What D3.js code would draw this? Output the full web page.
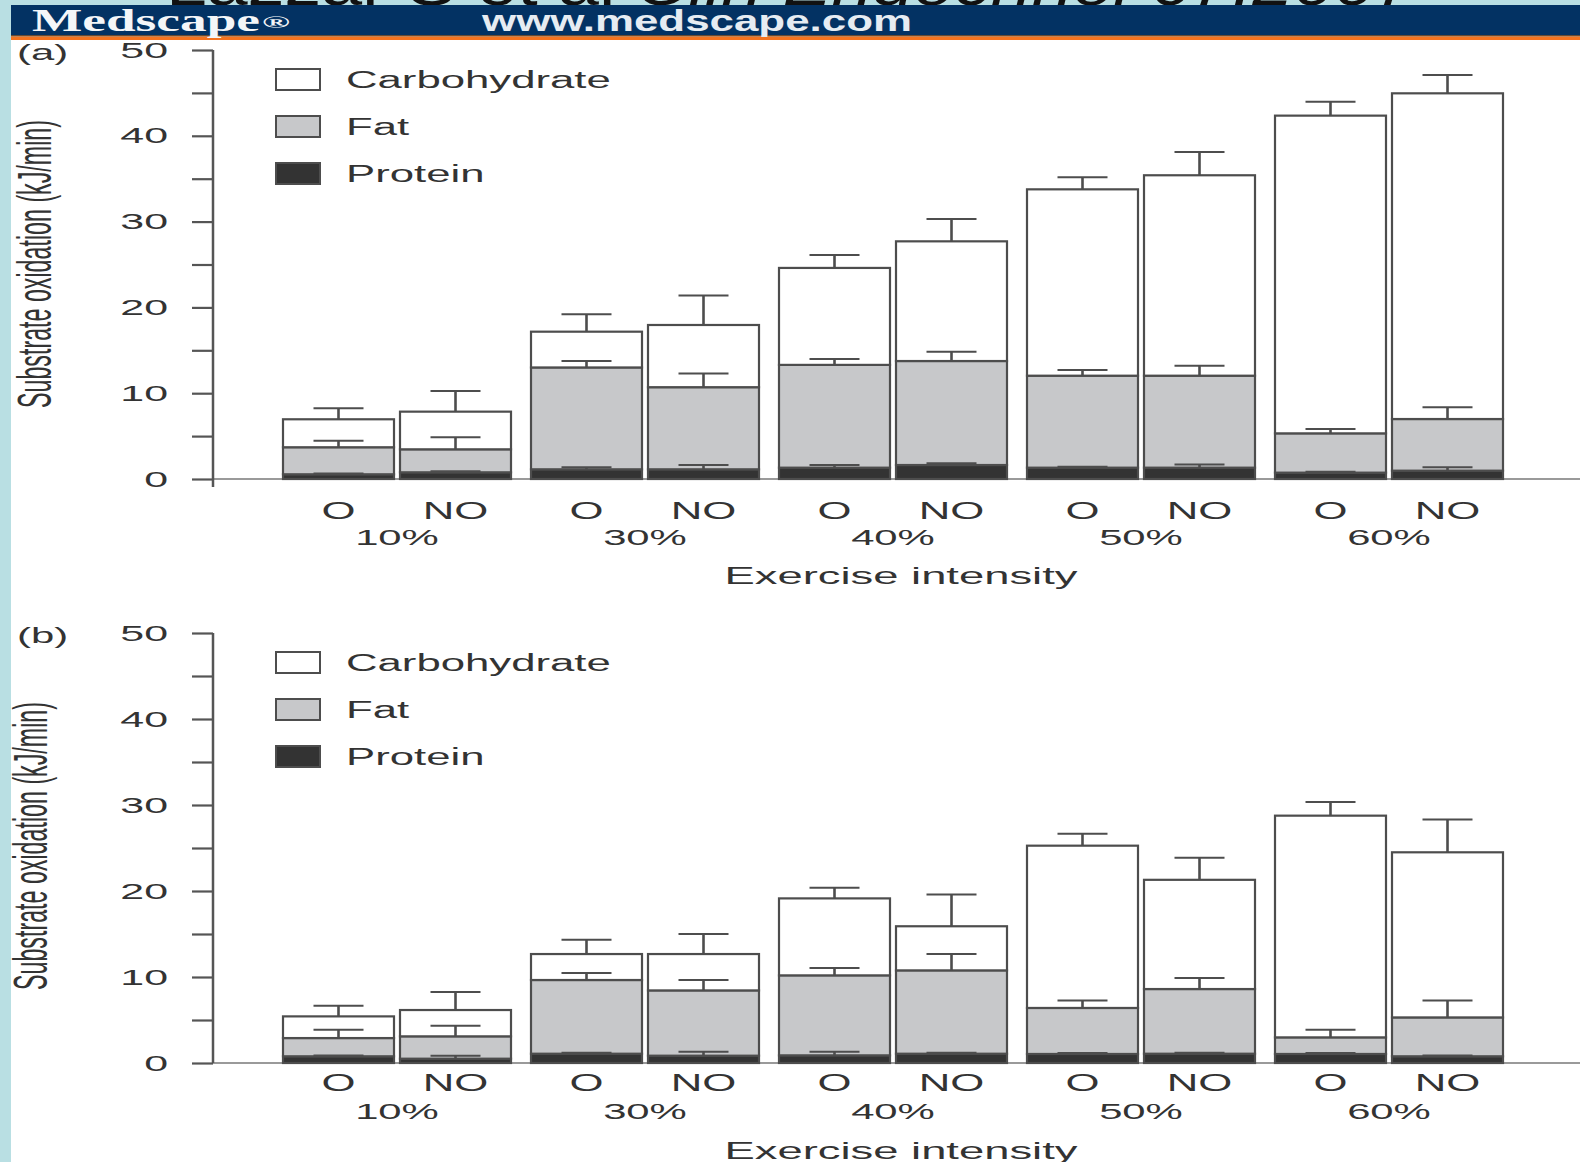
<!DOCTYPE html>
<html>
<head>
<meta charset="utf-8">
<script src="https://cdn.jsdelivr.net/npm/d3@7"></script>
<style>
  body { margin: 0; background: #fff; }
  svg { display: block; }
  text { font-family: "Liberation Sans", Arial, sans-serif; fill: #333; }
</style>
</head>
<body>
<div id="chart"></div>
<script>
// categories
var groups = ['10%', '30%', '40%', '50%', '60%'];
var conditions = ['O', 'NO'];
var seriesKeys = ['Protein', 'Fat', 'Carbohydrate'];
var legendKeys = ['Carbohydrate', 'Fat', 'Protein'];
var yTickValues = [0, 5, 10, 15, 20, 25, 30, 35, 40, 45, 50];

// panel (a) values, kJ/min, order: 10% O, 10% NO, 30% O, ...
var proteinA = [0.55, 0.78, 1.13, 1.13, 1.32, 1.63, 1.32, 1.32, 0.74, 0.97];
var fatA = [3.15, 2.68, 11.87, 9.57, 11.98, 12.12, 10.72, 10.72, 4.58, 6.02];
var carbA = [3.26, 4.39, 4.17, 7.25, 11.3, 13.95, 21.72, 23.36, 37.03, 37.96];
var proteinErrA = [0.1, 0.12, 0.23, 0.5, 0.31, 0.2, 0.1, 0.38, 0.1, 0.39];
var fatErrA = [0.76, 1.4, 0.75, 1.6, 0.7, 1.09, 0.66, 1.16, 0.51, 1.37];
var carbErrA = [1.28, 2.4, 2.03, 3.45, 1.5, 2.6, 1.4, 2.7, 1.62, 2.15];

// panel (b) values
var proteinB = [0.78, 0.5, 1.08, 0.85, 0.89, 1.08, 1.05, 1.08, 1.05, 0.78];
var fatB = [2.12, 2.6, 8.57, 7.59, 9.3, 9.69, 5.35, 7.52, 1.93, 4.52];
var carbB = [2.52, 3.06, 3.02, 4.23, 8.95, 5.13, 18.87, 12.7, 25.78, 19.2];
var proteinErrB = [0.1, 0.35, 0.1, 0.46, 0.42, 0.1, 0.1, 0.1, 0.1, 0.1];
var fatErrB = [0.97, 1.24, 0.82, 1.21, 0.86, 1.9, 0.88, 1.28, 0.89, 1.98];
var carbErrB = [1.24, 2.1, 1.67, 2.33, 1.24, 3.7, 1.4, 2.57, 1.59, 3.8];

var width = 1580, height = 1162;
var K = 1.9; // the original picture is stretched sideways

var colors = { Carbohydrate: '#ffffff', Fat: '#c7c8ca', Protein: '#333333' };
var edge = '#4d4d4d';

var svg = d3.select('#chart').append('svg')
  .attr('width', width)
  .attr('height', height);

function stretch(sel, k) {
  sel.each(function () {
    var w = this.getComputedTextLength();
    if (w > 0) {
      d3.select(this).attr('textLength', w * k).attr('lengthAdjust', 'spacingAndGlyphs');
    }
  });
  return sel;
}

// background strips and header
svg.append('rect').attr('width', width).attr('height', height).attr('fill', '#b9dfe3');
svg.append('rect').attr('x', 11).attr('y', 40).attr('width', width - 11).attr('height', height - 40).attr('fill', '#fff');

// citation line, only its lowest few pixels show above the band
svg.append('clipPath').attr('id', 'citeClip')
  .append('rect').attr('x', 0).attr('y', 0).attr('width', width).attr('height', 5);

var cite = svg.append('text')
  .attr('clip-path', 'url(#citeClip)')
  .attr('x', 166).attr('y', 5)
  .style('font-size', '60px')
  .style('fill', '#111')
  .attr('textLength', 1250)
  .attr('lengthAdjust', 'spacingAndGlyphs');
cite.append('tspan').text('Lazzar S et al ');
cite.append('tspan').style('font-style', 'italic').text('Clin Endocrinol 67:2007');

svg.append('rect').attr('x', 11).attr('y', 5).attr('width', width - 11).attr('height', 30).attr('fill', '#033263');
svg.append('rect').attr('x', 11).attr('y', 35).attr('width', width - 11).attr('height', 1.5).attr('fill', '#6a4a30');
svg.append('rect').attr('x', 11).attr('y', 36.5).attr('width', width - 11).attr('height', 3.5).attr('fill', '#f5731e');

var brand = svg.append('text')
  .attr('x', 32).attr('y', 31)
  .style('font-family', '"Liberation Serif", "Times New Roman", serif')
  .style('font-size', '31px')
  .style('font-weight', 'bold')
  .style('fill', '#f4f6f8');
brand.append('tspan')
  .attr('textLength', 228)
  .attr('lengthAdjust', 'spacingAndGlyphs')
  .text('Medscape');
brand.append('tspan')
  .attr('x', 262).attr('y', 28)
  .style('font-size', '17px')
  .attr('textLength', 28)
  .attr('lengthAdjust', 'spacingAndGlyphs')
  .text('®');

svg.append('text')
  .attr('x', 482).attr('y', 31)
  .style('font-size', '29px')
  .style('font-weight', 'bold')
  .style('fill', '#e6ecf2')
  .attr('textLength', 430)
  .attr('lengthAdjust', 'spacingAndGlyphs')
  .text('www.medscape.com');

// shared x scales
var x0 = d3.scaleBand().domain(groups).range([273, 1513]);
var x1 = d3.scaleBand().domain(conditions).range([10, 238]).paddingInner(0.0513);

function drawPanel(opt) {
  var y = d3.scaleLinear().domain([0, 50]).range([opt.zero, opt.top]);
  var g = svg.append('g');

  var rows = [];
  groups.forEach(function (grp, gi) {
    conditions.forEach(function (c, ci) {
      var i = gi * 2 + ci;
      rows.push({ group: grp, cond: c, Protein: opt.protein[i], Fat: opt.fat[i], Carbohydrate: opt.carb[i] });
    });
  });
  var errs = { Protein: opt.proteinErr, Fat: opt.fatErr, Carbohydrate: opt.carbErr };

  var layers = d3.stack().keys(seriesKeys)(rows);

  // x axis baseline
  g.append('line')
    .attr('x1', 213).attr('x2', width)
    .attr('y1', y(0)).attr('y2', y(0))
    .attr('stroke', '#9a9a9a').attr('stroke-width', 2);

  // bars
  g.selectAll('.layer')
    .data(layers)
    .enter().append('g')
    .attr('class', 'layer')
    .attr('fill', function (d) { return colors[d.key]; })
    .selectAll('rect')
    .data(function (d) { return d; })
    .enter().append('rect')
    .attr('x', function (d) { return x0(d.data.group) + x1(d.data.cond); })
    .attr('y', function (d) { return y(d[1]); })
    .attr('width', x1.bandwidth())
    .attr('height', function (d) { return y(d[0]) - y(d[1]); })
    .attr('stroke', edge)
    .attr('stroke-width', 2.2);

  // error bars
  layers.forEach(function (layer) {
    layer.forEach(function (d, i) {
      var cx = x0(d.data.group) + x1(d.data.cond) + x1.bandwidth() / 2;
      var yTop = y(d[1]);
      var yErr = y(d[1] + errs[layer.key][i]);
      g.append('line')
        .attr('x1', cx).attr('x2', cx)
        .attr('y1', yTop).attr('y2', yErr)
        .attr('stroke', edge).attr('stroke-width', 2.6);
      g.append('line')
        .attr('x1', cx - 25).attr('x2', cx + 25)
        .attr('y1', yErr).attr('y2', yErr)
        .attr('stroke', edge).attr('stroke-width', 2);
    });
  });

  // y axis
  var yAxis = d3.axisLeft(y)
    .tickValues(yTickValues)
    .tickSize(21)
    .tickSizeOuter(0)
    .tickPadding(24)
    .tickFormat(function (d) { return d % 10 === 0 ? d : ''; });

  var ax = g.append('g')
    .attr('transform', 'translate(213,0)')
    .call(yAxis);
  ax.select('.domain').attr('stroke', '#555').attr('stroke-width', 2.5)
    .attr('d', 'M0,' + y(50) + 'V' + (y(0) + opt.axisTail));
  ax.selectAll('.tick line').attr('stroke', '#555').attr('stroke-width', 2.2);
  ax.selectAll('.tick text')
    .style('font-size', '22px')
    .style('font-family', '"Liberation Sans", Arial, sans-serif')
    .attr('fill', '#333');
  stretch(ax.selectAll('.tick text'), 1.95);

  // y title
  g.append('text')
    .attr('transform', 'translate(' + opt.titleX + ',' + opt.titleY + ') rotate(-90)')
    .attr('text-anchor', 'middle')
    .style('font-size', '48px')
    .attr('textLength', 288)
    .attr('lengthAdjust', 'spacingAndGlyphs')
    .text('Substrate oxidation (kJ/min)');

  // panel letter
  stretch(g.append('text')
    .attr('x', 17).attr('y', opt.letterY)
    .style('font-size', '22px')
    .text(opt.letter), K);

  // condition labels
  var condSel = g.selectAll('.cond')
    .data(rows)
    .enter().append('text')
    .attr('class', 'cond')
    .attr('x', function (d) { return x0(d.group) + x1(d.cond) + x1.bandwidth() / 2; })
    .attr('y', opt.condY)
    .attr('text-anchor', 'middle')
    .style('font-size', '23px')
    .text(function (d) { return d.cond; });
  stretch(condSel, K);

  var grpSel = g.selectAll('.grp')
    .data(groups)
    .enter().append('text')
    .attr('class', 'grp')
    .attr('x', function (d) { return x0(d) + x0.bandwidth() / 2; })
    .attr('y', opt.groupY)
    .attr('text-anchor', 'middle')
    .style('font-size', '22px')
    .text(function (d) { return d; });
  stretch(grpSel, K);

  g.append('text')
    .attr('x', 901).attr('y', opt.xTitleY)
    .attr('text-anchor', 'middle')
    .style('font-size', '24px')
    .attr('textLength', 353)
    .attr('lengthAdjust', 'spacingAndGlyphs')
    .text('Exercise intensity');

  // legend
  var leg = g.selectAll('.leg')
    .data(legendKeys)
    .enter().append('g')
    .attr('class', 'leg')
    .attr('transform', function (d, i) { return 'translate(276,' + (y(50) + 19 + i * 47) + ')'; });
  leg.append('rect')
    .attr('width', 44).attr('height', 21)
    .attr('fill', function (d) { return colors[d]; })
    .attr('stroke', edge).attr('stroke-width', 2);
  stretch(leg.append('text')
    .attr('x', 70).attr('y', 19)
    .style('font-size', '23px')
    .text(function (d) { return d; }), K);
}

drawPanel({
  zero: 479, top: 50, axisTail: 8,
  protein: proteinA, fat: fatA, carb: carbA,
  proteinErr: proteinErrA, fatErr: fatErrA, carbErr: carbErrA,
  titleX: 51, titleY: 264, letter: '(a)', letterY: 60,
  condY: 519, groupY: 545, xTitleY: 584
});

drawPanel({
  zero: 1063, top: 633, axisTail: 0,
  protein: proteinB, fat: fatB, carb: carbB,
  proteinErr: proteinErrB, fatErr: fatErrB, carbErr: carbErrB,
  titleX: 47, titleY: 846, letter: '(b)', letterY: 643,
  condY: 1091, groupY: 1119, xTitleY: 1159
});
</script>
</body>
</html>
